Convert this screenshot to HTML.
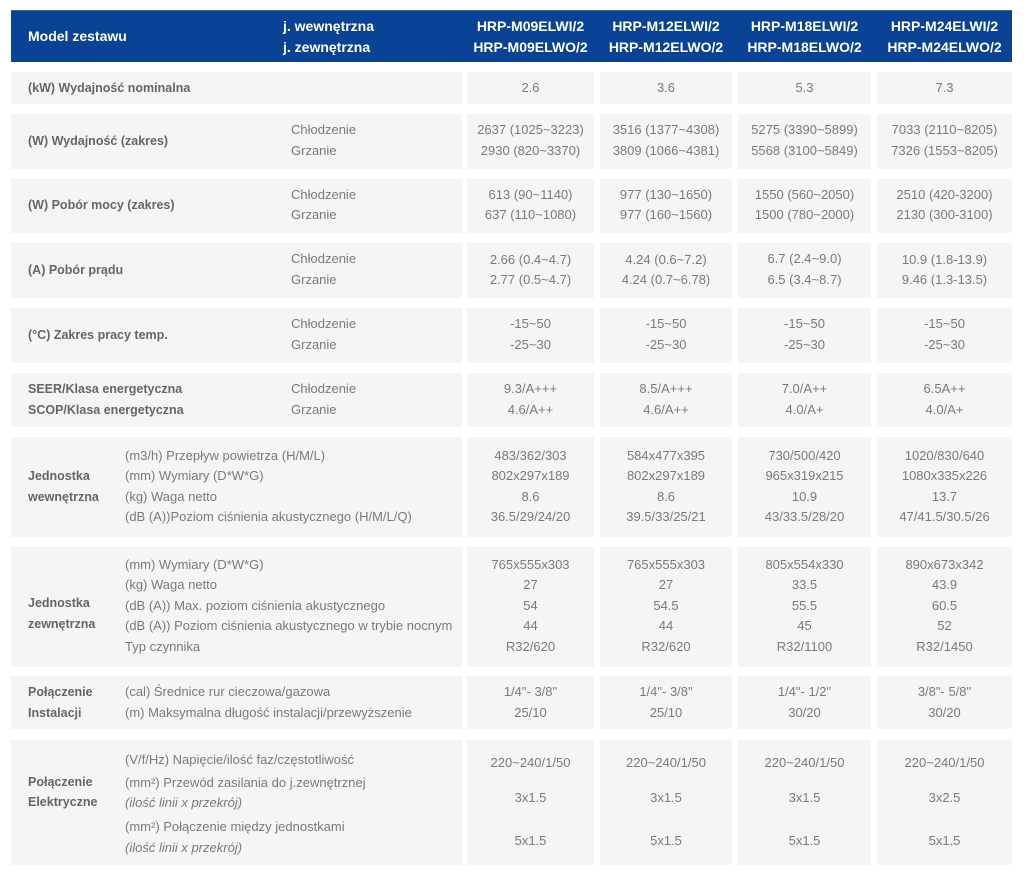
<!DOCTYPE html>
<html>
<head>
<meta charset="utf-8">
<style>
  html,body{margin:0;padding:0;background:#fff;}
  body{width:1024px;height:876px;position:relative;overflow:hidden;font-family:"Liberation Sans",Arial,sans-serif;}
  .hd{position:absolute;left:11px;top:10px;width:1001px;height:52px;background:#0a4395;border-top:1px solid #3a64a8;box-sizing:border-box;}
  .c{position:absolute;background:#f5f5f5;}
  .t{position:absolute;height:20px;line-height:20px;font-size:13px;color:#7a7a7a;white-space:nowrap;}
  .b{font-weight:bold;color:#666;font-size:12.5px;}
  .h{font-weight:bold;color:#fff;font-size:14px;}
  .i{font-style:italic;}
  .k1{left:467px;width:127px;text-align:center;}
  .k2{left:600px;width:132px;text-align:center;}
  .k3{left:738px;width:133px;text-align:center;}
  .k4{left:877px;width:135px;text-align:center;}
</style>
</head>
<body>
<div class="hd"></div>
<div class="t h" style="left:28px;top:26px;">Model zestawu</div>
<div class="t h" style="left:283px;top:16px;">j. wewnętrzna</div>
<div class="t h" style="left:283px;top:37px;">j. zewnętrzna</div>
<div class="t h k1" style="top:16px;">HRP-M09ELWI/2</div>
<div class="t h k1" style="top:37px;">HRP-M09ELWO/2</div>
<div class="t h k2" style="top:16px;">HRP-M12ELWI/2</div>
<div class="t h k2" style="top:37px;">HRP-M12ELWO/2</div>
<div class="t h k3" style="top:16px;">HRP-M18ELWI/2</div>
<div class="t h k3" style="top:37px;">HRP-M18ELWO/2</div>
<div class="t h k4" style="top:16px;">HRP-M24ELWI/2</div>
<div class="t h k4" style="top:37px;">HRP-M24ELWO/2</div>

<!-- cell backgrounds -->
<div class="c" style="left:11px;top:72px;width:451px;height:32px"></div>
<div class="c" style="left:467px;top:72px;width:127px;height:32px"></div>
<div class="c" style="left:600px;top:72px;width:132px;height:32px"></div>
<div class="c" style="left:738px;top:72px;width:133px;height:32px"></div>
<div class="c" style="left:877px;top:72px;width:135px;height:32px"></div>

<div class="c" style="left:11px;top:114px;width:451px;height:55px"></div>
<div class="c" style="left:467px;top:114px;width:127px;height:55px"></div>
<div class="c" style="left:600px;top:114px;width:132px;height:55px"></div>
<div class="c" style="left:738px;top:114px;width:133px;height:55px"></div>
<div class="c" style="left:877px;top:114px;width:135px;height:55px"></div>

<div class="c" style="left:11px;top:179px;width:451px;height:54px"></div>
<div class="c" style="left:467px;top:179px;width:127px;height:54px"></div>
<div class="c" style="left:600px;top:179px;width:132px;height:54px"></div>
<div class="c" style="left:738px;top:179px;width:133px;height:54px"></div>
<div class="c" style="left:877px;top:179px;width:135px;height:54px"></div>

<div class="c" style="left:11px;top:243px;width:451px;height:55px"></div>
<div class="c" style="left:467px;top:243px;width:127px;height:55px"></div>
<div class="c" style="left:600px;top:243px;width:132px;height:55px"></div>
<div class="c" style="left:738px;top:243px;width:133px;height:55px"></div>
<div class="c" style="left:877px;top:243px;width:135px;height:55px"></div>

<div class="c" style="left:11px;top:308px;width:451px;height:55px"></div>
<div class="c" style="left:467px;top:308px;width:127px;height:55px"></div>
<div class="c" style="left:600px;top:308px;width:132px;height:55px"></div>
<div class="c" style="left:738px;top:308px;width:133px;height:55px"></div>
<div class="c" style="left:877px;top:308px;width:135px;height:55px"></div>

<div class="c" style="left:11px;top:373px;width:451px;height:54px"></div>
<div class="c" style="left:467px;top:373px;width:127px;height:54px"></div>
<div class="c" style="left:600px;top:373px;width:132px;height:54px"></div>
<div class="c" style="left:738px;top:373px;width:133px;height:54px"></div>
<div class="c" style="left:877px;top:373px;width:135px;height:54px"></div>

<div class="c" style="left:11px;top:437px;width:451px;height:100px"></div>
<div class="c" style="left:467px;top:437px;width:127px;height:100px"></div>
<div class="c" style="left:600px;top:437px;width:132px;height:100px"></div>
<div class="c" style="left:738px;top:437px;width:133px;height:100px"></div>
<div class="c" style="left:877px;top:437px;width:135px;height:100px"></div>

<div class="c" style="left:11px;top:547px;width:451px;height:120px"></div>
<div class="c" style="left:467px;top:547px;width:127px;height:120px"></div>
<div class="c" style="left:600px;top:547px;width:132px;height:120px"></div>
<div class="c" style="left:738px;top:547px;width:133px;height:120px"></div>
<div class="c" style="left:877px;top:547px;width:135px;height:120px"></div>

<div class="c" style="left:11px;top:676px;width:451px;height:53px"></div>
<div class="c" style="left:467px;top:676px;width:127px;height:53px"></div>
<div class="c" style="left:600px;top:676px;width:132px;height:53px"></div>
<div class="c" style="left:738px;top:676px;width:133px;height:53px"></div>
<div class="c" style="left:877px;top:676px;width:135px;height:53px"></div>

<div class="c" style="left:11px;top:740px;width:451px;height:125px"></div>
<div class="c" style="left:467px;top:740px;width:127px;height:125px"></div>
<div class="c" style="left:600px;top:740px;width:132px;height:125px"></div>
<div class="c" style="left:738px;top:740px;width:133px;height:125px"></div>
<div class="c" style="left:877px;top:740px;width:135px;height:125px"></div>

<!-- Row 1 -->
<div class="t b" style="left:28px;top:78px;">(kW) Wydajność nominalna</div>
<div class="t k1" style="top:78px;">2.6</div>
<div class="t k2" style="top:78px;">3.6</div>
<div class="t k3" style="top:78px;">5.3</div>
<div class="t k4" style="top:78px;">7.3</div>

<!-- Row 2 -->
<div class="t b" style="left:28px;top:131px;">(W) Wydajność (zakres)</div>
<div class="t" style="left:291px;top:120px;">Chłodzenie</div>
<div class="t" style="left:291px;top:141px;">Grzanie</div>
<div class="t k1" style="top:120px;">2637 (1025~3223)</div>
<div class="t k1" style="top:141px;">2930 (820~3370)</div>
<div class="t k2" style="top:120px;">3516 (1377~4308)</div>
<div class="t k2" style="top:141px;">3809 (1066~4381)</div>
<div class="t k3" style="top:120px;">5275 (3390~5899)</div>
<div class="t k3" style="top:141px;">5568 (3100~5849)</div>
<div class="t k4" style="top:120px;">7033 (2110~8205)</div>
<div class="t k4" style="top:141px;">7326 (1553~8205)</div>

<!-- Row 3 -->
<div class="t b" style="left:28px;top:195px;">(W) Pobór mocy (zakres)</div>
<div class="t" style="left:291px;top:185px;">Chłodzenie</div>
<div class="t" style="left:291px;top:205px;">Grzanie</div>
<div class="t k1" style="top:185px;">613 (90~1140)</div>
<div class="t k1" style="top:205px;">637 (110~1080)</div>
<div class="t k2" style="top:185px;">977 (130~1650)</div>
<div class="t k2" style="top:205px;">977 (160~1560)</div>
<div class="t k3" style="top:185px;">1550 (560~2050)</div>
<div class="t k3" style="top:205px;">1500 (780~2000)</div>
<div class="t k4" style="top:185px;">2510 (420-3200)</div>
<div class="t k4" style="top:205px;">2130 (300-3100)</div>

<!-- Row 4 -->
<div class="t b" style="left:28px;top:260px;">(A) Pobór prądu</div>
<div class="t" style="left:291px;top:249px;">Chłodzenie</div>
<div class="t" style="left:291px;top:270px;">Grzanie</div>
<div class="t k1" style="top:250px;">2.66 (0.4~4.7)</div>
<div class="t k1" style="top:270px;">2.77 (0.5~4.7)</div>
<div class="t k2" style="top:250px;">4.24 (0.6~7.2)</div>
<div class="t k2" style="top:270px;">4.24 (0.7~6.78)</div>
<div class="t k3" style="top:249px;">6.7 (2.4~9.0)</div>
<div class="t k3" style="top:270px;">6.5 (3.4~8.7)</div>
<div class="t k4" style="top:250px;">10.9 (1.8-13.9)</div>
<div class="t k4" style="top:270px;">9.46 (1.3-13.5)</div>

<!-- Row 5 -->
<div class="t b" style="left:28px;top:325px;">(°C) Zakres pracy temp.</div>
<div class="t" style="left:291px;top:314px;">Chłodzenie</div>
<div class="t" style="left:291px;top:335px;">Grzanie</div>
<div class="t k1" style="top:314px;">-15~50</div>
<div class="t k1" style="top:335px;">-25~30</div>
<div class="t k2" style="top:314px;">-15~50</div>
<div class="t k2" style="top:335px;">-25~30</div>
<div class="t k3" style="top:314px;">-15~50</div>
<div class="t k3" style="top:335px;">-25~30</div>
<div class="t k4" style="top:314px;">-15~50</div>
<div class="t k4" style="top:335px;">-25~30</div>

<!-- Row 6 -->
<div class="t b" style="left:28px;top:379px;">SEER/Klasa energetyczna</div>
<div class="t b" style="left:28px;top:400px;">SCOP/Klasa energetyczna</div>
<div class="t" style="left:291px;top:379px;">Chłodzenie</div>
<div class="t" style="left:291px;top:400px;">Grzanie</div>
<div class="t k1" style="top:379px;">9.3/A+++</div>
<div class="t k1" style="top:400px;">4.6/A++</div>
<div class="t k2" style="top:379px;">8.5/A+++</div>
<div class="t k2" style="top:400px;">4.6/A++</div>
<div class="t k3" style="top:379px;">7.0/A++</div>
<div class="t k3" style="top:400px;">4.0/A+</div>
<div class="t k4" style="top:379px;">6.5A++</div>
<div class="t k4" style="top:400px;">4.0/A+</div>

<!-- Row 7 -->
<div class="t b" style="left:28px;top:466px;">Jednostka</div>
<div class="t b" style="left:28px;top:487px;">wewnętrzna</div>
<div class="t" style="left:125px;top:446px;">(m3/h) Przepływ powietrza (H/M/L)</div>
<div class="t" style="left:125px;top:466px;">(mm) Wymiary (D*W*G)</div>
<div class="t" style="left:125px;top:487px;">(kg) Waga netto</div>
<div class="t" style="left:125px;top:507px;">(dB (A))Poziom ciśnienia akustycznego (H/M/L/Q)</div>
<div class="t k1" style="top:446px;">483/362/303</div>
<div class="t k1" style="top:466px;">802x297x189</div>
<div class="t k1" style="top:487px;">8.6</div>
<div class="t k1" style="top:507px;">36.5/29/24/20</div>
<div class="t k2" style="top:446px;">584x477x395</div>
<div class="t k2" style="top:466px;">802x297x189</div>
<div class="t k2" style="top:487px;">8.6</div>
<div class="t k2" style="top:507px;">39.5/33/25/21</div>
<div class="t k3" style="top:446px;">730/500/420</div>
<div class="t k3" style="top:466px;">965x319x215</div>
<div class="t k3" style="top:487px;">10.9</div>
<div class="t k3" style="top:507px;">43/33.5/28/20</div>
<div class="t k4" style="top:446px;">1020/830/640</div>
<div class="t k4" style="top:466px;">1080x335x226</div>
<div class="t k4" style="top:487px;">13.7</div>
<div class="t k4" style="top:507px;">47/41.5/30.5/26</div>

<!-- Row 8 -->
<div class="t b" style="left:28px;top:593px;">Jednostka</div>
<div class="t b" style="left:28px;top:614px;">zewnętrzna</div>
<div class="t" style="left:125px;top:555px;">(mm) Wymiary (D*W*G)</div>
<div class="t" style="left:125px;top:575px;">(kg) Waga netto</div>
<div class="t" style="left:125px;top:596px;">(dB (A)) Max. poziom ciśnienia akustycznego</div>
<div class="t" style="left:125px;top:616px;">(dB (A)) Poziom ciśnienia akustycznego w trybie nocnym</div>
<div class="t" style="left:125px;top:637px;">Typ czynnika</div>
<div class="t k1" style="top:555px;">765x555x303</div>
<div class="t k1" style="top:575px;">27</div>
<div class="t k1" style="top:596px;">54</div>
<div class="t k1" style="top:616px;">44</div>
<div class="t k1" style="top:637px;">R32/620</div>
<div class="t k2" style="top:555px;">765x555x303</div>
<div class="t k2" style="top:575px;">27</div>
<div class="t k2" style="top:596px;">54.5</div>
<div class="t k2" style="top:616px;">44</div>
<div class="t k2" style="top:637px;">R32/620</div>
<div class="t k3" style="top:555px;">805x554x330</div>
<div class="t k3" style="top:575px;">33.5</div>
<div class="t k3" style="top:596px;">55.5</div>
<div class="t k3" style="top:616px;">45</div>
<div class="t k3" style="top:637px;">R32/1100</div>
<div class="t k4" style="top:555px;">890x673x342</div>
<div class="t k4" style="top:575px;">43.9</div>
<div class="t k4" style="top:596px;">60.5</div>
<div class="t k4" style="top:616px;">52</div>
<div class="t k4" style="top:637px;">R32/1450</div>

<!-- Row 9 -->
<div class="t b" style="left:28px;top:682px;">Połączenie</div>
<div class="t b" style="left:28px;top:703px;">Instalacji</div>
<div class="t" style="left:125px;top:682px;">(cal) Średnice rur cieczowa/gazowa</div>
<div class="t" style="left:125px;top:703px;">(m) Maksymalna długość instalacji/przewyższenie</div>
<div class="t k1" style="top:682px;">1/4"- 3/8"</div>
<div class="t k1" style="top:703px;">25/10</div>
<div class="t k2" style="top:682px;">1/4"- 3/8"</div>
<div class="t k2" style="top:703px;">25/10</div>
<div class="t k3" style="top:682px;">1/4"- 1/2"</div>
<div class="t k3" style="top:703px;">30/20</div>
<div class="t k4" style="top:682px;">3/8"- 5/8"</div>
<div class="t k4" style="top:703px;">30/20</div>

<!-- Row 10 -->
<div class="t b" style="left:28px;top:772px;">Połączenie</div>
<div class="t b" style="left:28px;top:792px;">Elektryczne</div>
<div class="t" style="left:125px;top:750px;">(V/f/Hz) Napięcie/ilość faz/częstotliwość</div>
<div class="t" style="left:125px;top:773px;">(mm²) Przewód zasilania do j.zewnętrznej</div>
<div class="t i" style="left:125px;top:793px;">(ilość linii x przekrój)</div>
<div class="t" style="left:125px;top:817px;">(mm²) Połączenie między jednostkami</div>
<div class="t i" style="left:125px;top:838px;">(ilość linii x przekrój)</div>
<div class="t k1" style="top:753px;">220~240/1/50</div>
<div class="t k1" style="top:788px;">3x1.5</div>
<div class="t k1" style="top:831px;">5x1.5</div>
<div class="t k2" style="top:753px;">220~240/1/50</div>
<div class="t k2" style="top:788px;">3x1.5</div>
<div class="t k2" style="top:831px;">5x1.5</div>
<div class="t k3" style="top:753px;">220~240/1/50</div>
<div class="t k3" style="top:788px;">3x1.5</div>
<div class="t k3" style="top:831px;">5x1.5</div>
<div class="t k4" style="top:753px;">220~240/1/50</div>
<div class="t k4" style="top:788px;">3x2.5</div>
<div class="t k4" style="top:831px;">5x1.5</div>
</body>
</html>
